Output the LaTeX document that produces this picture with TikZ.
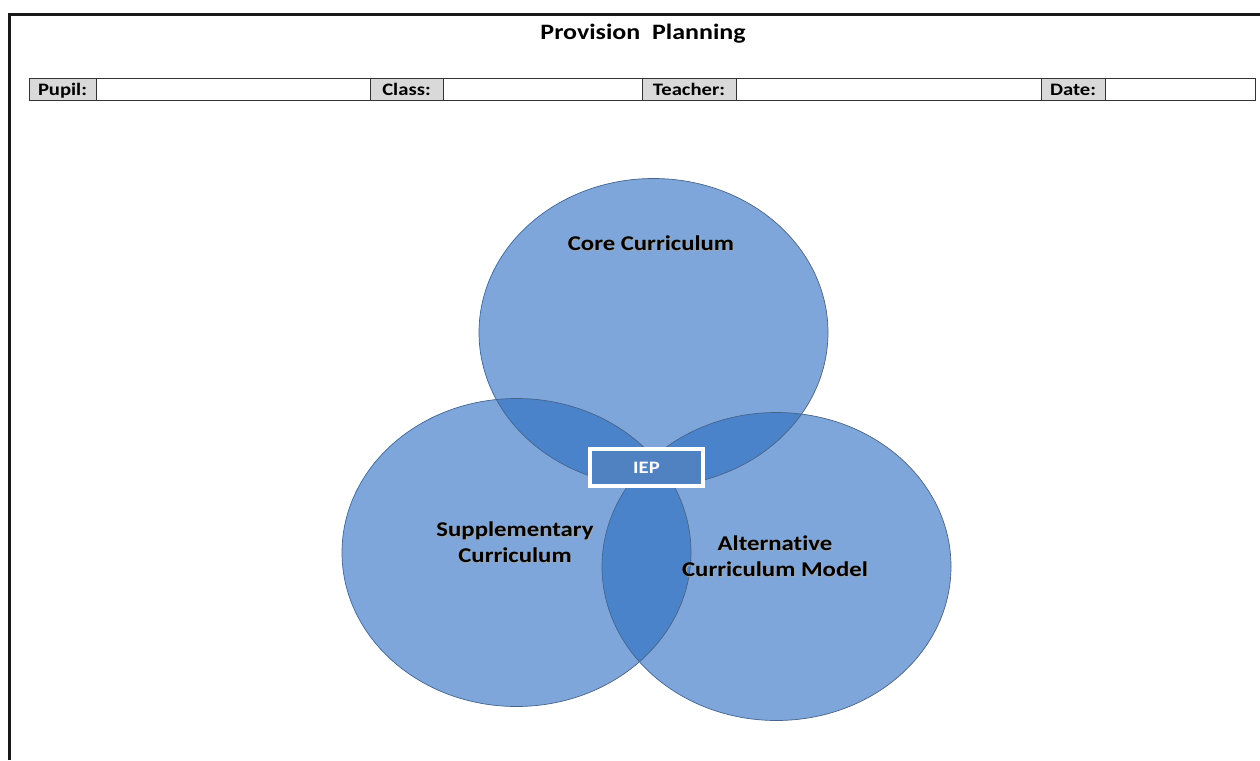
\documentclass[tikz,border=0pt]{standalone}
\usepackage{fontspec}
\setmainfont{Carlito}[FakeStretch=1.18, Ligatures=NoCommon]
\usetikzlibrary{shapes.geometric}
\definecolor{vennbase}{RGB}{40,107,193}
\definecolor{vennline}{RGB}{70,100,140}
\definecolor{iepblue}{RGB}{80,129,192}
\definecolor{cellgrey}{RGB}{217,217,217}
\begin{document}
\begin{tikzpicture}[x=1pt,y=-1pt,
  cellbase/.style={draw=black!80, line width=0.9pt, inner sep=0pt, minimum height=22pt},
  lblcell/.style={cellbase, fill=cellgrey, font=\bfseries\fontsize{17.5}{20}\selectfont,
                  text height=13pt, text depth=1pt},
  fieldcell/.style={cellbase, fill=white},
  vennfill/.style={ellipse, fill=vennbase, fill opacity=0.6, inner sep=0pt, minimum width=349pt, minimum height=308pt},
  vennedge/.style={ellipse, draw=vennline, line width=0.7pt, inner sep=0pt, minimum width=349pt, minimum height=308pt},
  venntext/.style={align=center, font=\bfseries\fontsize{21}{26}\selectfont, text=black},
  vennshadow/.style={align=center, font=\bfseries\fontsize{21}{26}\selectfont, text=black!35},
]
\useasboundingbox (0,0) rectangle (1260,760);

% page frame
\coordinate (frameBL) at (9.5,760);
\coordinate (frameTL) at (9.5,14.5);
\coordinate (frameTR) at (1260,14.5);
\draw[line width=2.4pt, black!90] (frameBL) -- (frameTL) -- (frameTR);

% title
\node[font=\bfseries\fontsize{22}{26}\selectfont] (title) at (643,34) {Provision\ \ Planning};

% header row
\node[lblcell, minimum width=67pt]  (pupil)    at (62.5,89)  {Pupil:};
\node[fieldcell, minimum width=274pt] (pupilf) at (233,89)   {};
\node[lblcell, minimum width=73pt]  (class)    at (406.5,89) {Class:};
\node[fieldcell, minimum width=199pt] (classf) at (542.5,89) {};
\node[lblcell, minimum width=94pt]  (teacher)  at (689,89)   {Teacher:};
\node[fieldcell, minimum width=305pt] (teacherf) at (888.5,89) {};
\node[lblcell, minimum width=64pt]  (date)     at (1073,89)  {Date:};
\node[fieldcell, minimum width=150pt] (datef)  at (1180,89)  {};

% Venn circles: translucent fills, then outlines on top
\node[vennfill] (coreF)  at (653.5,332.5) {};
\node[vennfill] (suppF)  at (516.5,552.5) {};
\node[vennfill] (altF)   at (776.5,566.5) {};
\node[vennedge] (core)   at (653.5,332.5) {};
\node[vennedge] (supp)   at (516.5,552.5) {};
\node[vennedge] (alt)    at (776.5,566.5) {};

% circle labels with soft shadow
\node[vennshadow] at (652.2,244.2) {Core Curriculum};
\node[venntext] (coreL) at (651,243) {Core Curriculum};
\node[vennshadow] at (516.2,543.2) {Supplementary\\Curriculum};
\node[venntext] (suppL) at (515,542) {Supplementary\\Curriculum};
\node[vennshadow] at (776.2,557.2) {Alternative\\Curriculum Model};
\node[venntext] (altL) at (775,556) {Alternative\\Curriculum Model};

% centre box
\node[draw=white, line width=3.6pt, fill=iepblue, minimum width=113pt, minimum height=37pt,
      inner sep=0pt, text=white, font=\bfseries\fontsize{17.5}{20}\selectfont] (iep) at (646.5,467.5) {IEP};
\end{tikzpicture}
\end{document}
